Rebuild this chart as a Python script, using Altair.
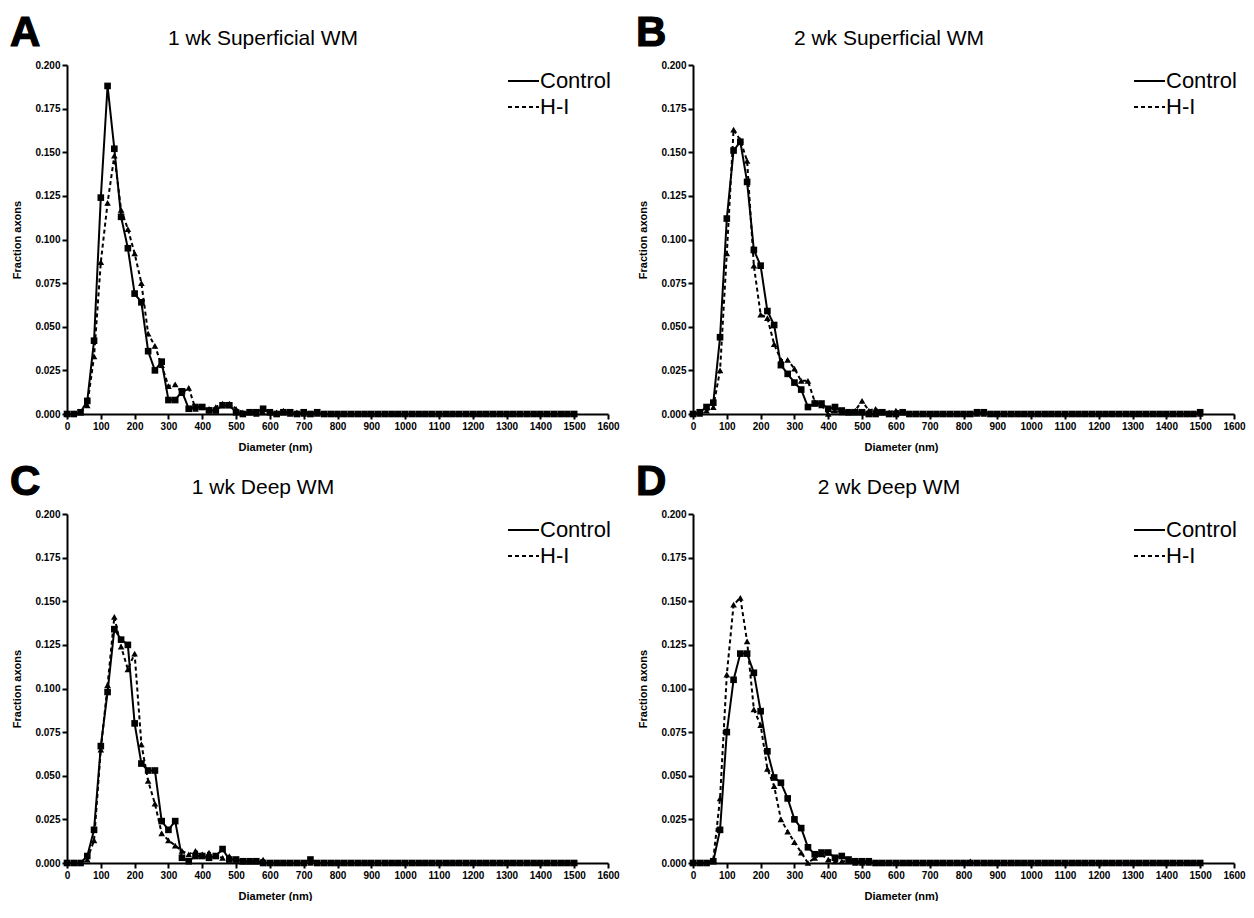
import altair as alt
import pandas as pd

diameter = list(range(0, 1520, 20))  # 0..1500 nm, 76 bins

a_control = [0, 0, 0.001, 0.0075, 0.042, 0.124, 0.188, 0.152, 0.113, 0.095,
             0.069, 0.064, 0.036, 0.025, 0.030, 0.008, 0.008, 0.013, 0.003, 0.004,
             0.004, 0.002, 0.002, 0.005, 0.005, 0.001, 0, 0.001, 0.001, 0.003,
             0.001, 0, 0.001, 0.001, 0, 0.001, 0, 0.001, 0, 0,
             0, 0, 0, 0, 0, 0, 0, 0, 0, 0,
             0, 0, 0, 0, 0, 0, 0, 0, 0, 0,
             0, 0, 0, 0, 0, 0, 0, 0, 0, 0,
             0, 0, 0, 0, 0, 0]
a_hi = [0, 0, 0.001, 0.005, 0.033, 0.087, 0.121, 0.148, 0.117, 0.106,
        0.092, 0.075, 0.046, 0.039, 0.028, 0.016, 0.017, 0.012, 0.015, 0.003,
        0.004, 0.003, 0.004, 0.006, 0.006, 0.003, 0.001, 0.001, 0, 0.001,
        0.001, 0.001, 0.002, 0, 0.001, 0, 0, 0, 0, 0,
        0, 0, 0, 0, 0, 0, 0, 0, 0, 0,
        0, 0, 0, 0, 0, 0, 0, 0, 0, 0,
        0, 0, 0, 0, 0, 0, 0, 0, 0, 0,
        0, 0, 0, 0, 0, 0]
b_control = [0, 0.001, 0.004, 0.0065, 0.044, 0.112, 0.151, 0.156, 0.133, 0.094,
             0.085, 0.059, 0.051, 0.028, 0.023, 0.018, 0.014, 0.004, 0.006, 0.006,
             0.003, 0.004, 0.002, 0.001, 0.001, 0.001, 0, 0, 0.001, 0,
             0, 0.001, 0, 0, 0, 0, 0, 0, 0, 0,
             0, 0, 0.001, 0.001, 0, 0, 0, 0, 0, 0,
             0, 0, 0, 0, 0, 0, 0, 0, 0, 0,
             0, 0, 0, 0, 0, 0, 0, 0, 0, 0,
             0, 0, 0, 0, 0, 0.001]
b_hi = [0, 0, 0.002, 0.004, 0.025, 0.092, 0.163, 0.157, 0.145, 0.085,
        0.057, 0.055, 0.040, 0.031, 0.031, 0.026, 0.019, 0.019, 0.007, 0.005,
        0, 0.002, 0.001, 0.001, 0.002, 0.0075, 0.002, 0.003, 0.001, 0.001,
        0.002, 0.001, 0, 0, 0, 0, 0, 0, 0, 0,
        0, 0, 0, 0, 0, 0, 0, 0, 0, 0,
        0, 0, 0, 0, 0, 0, 0, 0, 0, 0,
        0, 0, 0, 0, 0, 0, 0, 0, 0, 0,
        0, 0, 0, 0, 0, 0]
c_control = [0, 0, 0, 0.004, 0.019, 0.067, 0.098, 0.134, 0.128, 0.125,
             0.080, 0.057, 0.053, 0.053, 0.024, 0.019, 0.024, 0.003, 0.001, 0.004,
             0.004, 0.003, 0.004, 0.008, 0.002, 0.002, 0.001, 0.001, 0.001, 0,
             0, 0, 0, 0, 0, 0, 0.002, 0, 0, 0,
             0, 0, 0, 0, 0, 0, 0, 0, 0, 0,
             0, 0, 0, 0, 0, 0, 0, 0, 0, 0,
             0, 0, 0, 0, 0, 0, 0, 0, 0, 0,
             0, 0, 0, 0, 0, 0]
c_hi = [0, 0, 0, 0.002, 0.013, 0.065, 0.102, 0.141, 0.124, 0.111,
        0.120, 0.068, 0.047, 0.034, 0.017, 0.013, 0.010, 0.007, 0.005, 0.007,
        0.005, 0.006, 0.004, 0.003, 0.004, 0.002, 0.001, 0.001, 0.001, 0.002,
        0, 0, 0, 0, 0, 0, 0, 0, 0, 0,
        0, 0, 0, 0, 0, 0, 0, 0, 0, 0,
        0, 0, 0, 0, 0, 0, 0, 0, 0, 0,
        0, 0, 0, 0, 0, 0, 0, 0, 0, 0,
        0, 0, 0, 0, 0, 0]
d_control = [0, 0, 0, 0.001, 0.019, 0.075, 0.105, 0.120, 0.120, 0.109,
             0.087, 0.064, 0.049, 0.046, 0.037, 0.025, 0.020, 0.009, 0.005, 0.006,
             0.006, 0.003, 0.004, 0.002, 0.001, 0.001, 0.001, 0, 0, 0,
             0, 0, 0, 0, 0, 0, 0, 0, 0, 0,
             0, 0, 0, 0, 0, 0, 0, 0, 0, 0,
             0, 0, 0, 0, 0, 0, 0, 0, 0, 0,
             0, 0, 0, 0, 0, 0, 0, 0, 0, 0,
             0, 0, 0, 0, 0, 0]
d_hi = [0, 0, 0, 0.002, 0.037, 0.108, 0.148, 0.152, 0.127, 0.088,
        0.079, 0.054, 0.044, 0.025, 0.018, 0.012, 0.006, 0, 0.003, 0.005,
        0.002, 0.001, 0.001, 0.001, 0, 0, 0, 0, 0, 0,
        0, 0, 0, 0, 0, 0, 0, 0, 0, 0,
        0, 0.001, 0, 0, 0, 0, 0, 0, 0, 0,
        0, 0, 0, 0, 0, 0, 0, 0, 0, 0,
        0, 0, 0, 0, 0, 0, 0, 0, 0, 0,
        0, 0, 0, 0, 0, 0]

groups = ["Control", "H-I"]
panel_letters = ["A", "B", "C", "D"]
panel_titles = ["1 wk Superficial WM", "2 wk Superficial WM", "1 wk Deep WM", "2 wk Deep WM"]
x_ticks = list(range(0, 1700, 100))
y_ticks = [0, 0.025, 0.05, 0.075, 0.1, 0.125, 0.15, 0.175, 0.2]

W, H = 541, 349
FONT = "Liberation Sans"


def panel(letter, title, ctrl, hi):
    df = pd.DataFrame({
        "d": diameter + diameter,
        "v": ctrl + hi,
        "g": [groups[0]] * len(diameter) + [groups[1]] * len(diameter),
    })
    x = alt.X("d:Q", scale=alt.Scale(domain=[0, 1600], nice=False),
              axis=alt.Axis(values=x_ticks, format="d", title="Diameter (nm)",
                            labelFlush=False, labelOverlap=False, labelPadding=2,
                            titleX=208, titleY=36, titleBaseline="alphabetic"))
    y = alt.Y("v:Q", scale=alt.Scale(domain=[0, 0.2], nice=False),
              axis=alt.Axis(values=y_ticks, format=".3f", title="Fraction axons",
                            labelPadding=2, titleX=-47, titleY=H / 2,
                            titleBaseline="alphabetic"))
    base = alt.Chart(df)
    lines = base.mark_line(color="black", strokeWidth=2).encode(
        x=x, y=y, detail="g:N",
        strokeDash=alt.StrokeDash("g:N", scale=alt.Scale(domain=groups, range=[[1, 0], [4, 3]]), legend=None),
    )
    pts = base.mark_point(filled=True, color="black", opacity=1).encode(
        x=x, y=y,
        shape=alt.Shape("g:N", scale=alt.Scale(domain=groups, range=["square", "triangle-up"]), legend=None),
        size=alt.Size("g:N", scale=alt.Scale(domain=groups, range=[44, 44]), legend=None),
    )
    lab = pd.DataFrame({"t": [letter]})
    letter_mark = alt.Chart(lab).mark_text(
        font=FONT, fontSize=42, fontWeight="bold", align="left", baseline="alphabetic",
        stroke="black", strokeWidth=1.2, color="black",
    ).encode(x=alt.value(-57), y=alt.value(-19), text="t:N")
    tt = pd.DataFrame({"t": [title]})
    title_mark = alt.Chart(tt).mark_text(
        font=FONT, fontSize=21, align="center", baseline="alphabetic", color="black",
    ).encode(x=alt.value(196), y=alt.value(-20), text="t:N")
    lc = pd.DataFrame({"t": ["Control"]})
    lh = pd.DataFrame({"t": ["H-I"]})
    leg_c_line = alt.Chart(lc).mark_rule(color="black", strokeWidth=2).encode(
        x=alt.value(441), x2=alt.value(472), y=alt.value(16))
    leg_h_line = alt.Chart(lh).mark_rule(color="black", strokeWidth=2, strokeDash=[4, 3]).encode(
        x=alt.value(441), x2=alt.value(472), y=alt.value(42))
    leg_c_text = alt.Chart(lc).mark_text(
        font=FONT, fontSize=22, align="left", baseline="middle", color="black",
    ).encode(x=alt.value(473), y=alt.value(16), text="t:N")
    leg_h_text = alt.Chart(lh).mark_text(
        font=FONT, fontSize=22, align="left", baseline="middle", color="black",
    ).encode(x=alt.value(473), y=alt.value(42), text="t:N")
    return alt.layer(lines, pts, letter_mark, title_mark, leg_c_line, leg_h_line,
                     leg_c_text, leg_h_text).properties(width=W, height=H)


series = [(a_control, a_hi), (b_control, b_hi), (c_control, c_hi), (d_control, d_hi)]
panels = [panel(panel_letters[i], panel_titles[i], series[i][0], series[i][1]) for i in range(4)]

chart = alt.concat(*panels, columns=2, spacing={"row": 100, "column": 85}, bounds="flush").properties(
    padding={"left": 2, "top": 4, "right": 0, "bottom": 0}
).configure_view(stroke=None).configure_axis(
    grid=False, domainColor="black", domainWidth=2, tickColor="black", tickWidth=2, tickSize=5,
    labelFont=FONT, labelFontWeight="bold", labelFontSize=10, labelColor="black",
    titleFont=FONT, titleFontWeight="bold", titleFontSize=11, titleColor="black",
)

chart.save("out.html", embed_options={"renderer": "svg", "actions": False})
